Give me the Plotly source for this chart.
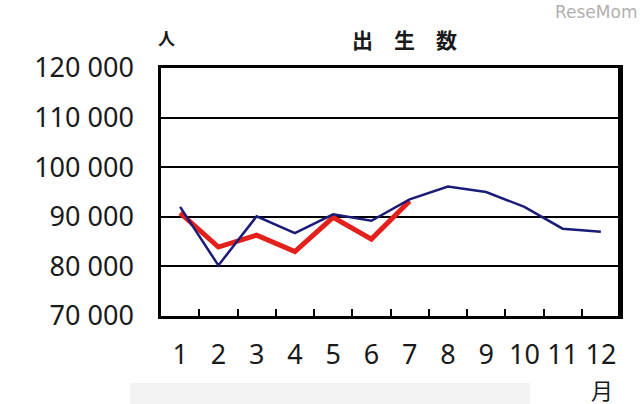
import plotly.graph_objects as go

# ---- data ----
months = ["1", "2", "3", "4", "5", "6", "7", "8", "9", "10", "11", "12"]
births_prev = [92000, 80200, 90100, 86700, 90500, 89200, 93500, 96100, 95000, 92000, 87600, 87000]
births_curr = [90800, 83900, 86300, 83000, 89900, 85500, 93200]
y_tickvals = [70000, 80000, 90000, 100000, 110000, 120000]
y_ticktext = ["70 000", "80 000", "90 000", "100 000", "110 000", "120 000"]
title_text = "出\u3000生\u3000数"
unit_y = "人"
unit_x = "月"
watermark = "ReseMom"

W, H = 640, 404
L, R, T, B = 161, 20, 68, 88
pw, ph = W - L - R, H - T - B


def px(x):
    return (x - L) / pw


def py(y):
    return (H - B - y) / ph


fig = go.Figure()
fig.add_trace(go.Scatter(
    x=months[:len(births_curr)], y=births_curr, mode="lines",
    line=dict(color="#e3201b", width=5), showlegend=False))
fig.add_trace(go.Scatter(
    x=months, y=births_prev, mode="lines",
    line=dict(color="#1b1b78", width=2.5), showlegend=False))

num_font = dict(family="Noto Sans", size=27, color="#1a1a1a")
cjk = "Noto Sans CJK JP"

fig.update_layout(
    width=W, height=H,
    margin=dict(l=L, r=R, t=T, b=B, autoexpand=False),
    paper_bgcolor="white", plot_bgcolor="white",
    xaxis=dict(
        type="category", categoryorder="array", categoryarray=months,
        range=[-0.5, 11.5], automargin=False, tickangle=0,
        showgrid=False, zeroline=False,
        showline=True, linecolor="black", linewidth=2.5, mirror=True,
        ticks="inside", tickson="boundaries", ticklen=7, tickwidth=1.5, tickcolor="black",
        tickfont=num_font, ticklabelstandoff=13,
    ),
    yaxis=dict(
        range=[70000, 120000], automargin=False,
        tickvals=y_tickvals, ticktext=y_ticktext,
        showgrid=True, gridcolor="black", gridwidth=1.5,
        zeroline=False,
        showline=True, linecolor="black", linewidth=2.5, mirror=True,
        ticks="outside", ticklen=19, tickcolor="rgba(0,0,0,0)",
        tickfont=num_font,
    ),
    shapes=[
        dict(type="line", xref="paper", yref="paper", x0=1, x1=1, y0=0, y1=1,
             line=dict(color="black", width=4)),
        dict(type="rect", xref="paper", yref="paper", x0=px(130), x1=px(530),
             y0=py(404), y1=py(383), fillcolor="#f3f3f3", line=dict(width=0), layer="below"),
    ],
    annotations=[
        dict(text=title_text, xref="paper", yref="paper", x=px(404), y=py(39),
             showarrow=False, xanchor="center", yanchor="middle",
             font=dict(family=cjk, size=21, color="#1a1a1a", weight="bold")),
        dict(text=unit_y, xref="paper", yref="paper", x=px(166), y=py(37),
             showarrow=False, xanchor="center", yanchor="middle",
             font=dict(family=cjk, size=17, color="#1a1a1a", weight="bold")),
        dict(text=unit_x, xref="paper", yref="paper", x=px(602), y=py(389),
             showarrow=False, xanchor="center", yanchor="middle",
             font=dict(family=cjk, size=22, color="#1a1a1a")),
        dict(text=watermark, xref="paper", yref="paper", x=px(596), y=py(12),
             showarrow=False, xanchor="center", yanchor="middle",
             font=dict(family="DejaVu Sans", size=17, color="#b0b0b0")),
    ],
)

fig.write_html("out.html", config={"displayModeBar": False},
               post_script="document.body.style.margin='0';document.body.style.overflow='hidden';")
